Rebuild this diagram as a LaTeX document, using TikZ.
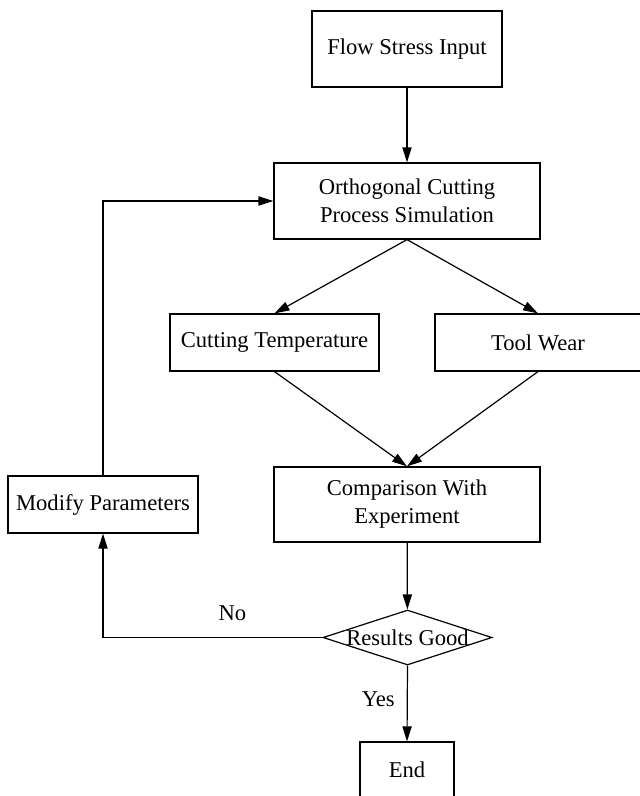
\documentclass[tikz,border=0pt]{standalone}
\usepackage{fontspec}
\setmainfont{Liberation Serif}
\usetikzlibrary{arrows.meta,shapes.geometric}
\tikzset{
  >={Triangle[length=7.5pt,width=4.6pt]},
  blk/.style={rectangle,draw,inner sep=0pt,align=center,font=\fontsize{11.3}{14}\selectfont},
  dec/.style={diamond,draw,inner sep=0pt,minimum width=84.5pt,minimum height=27.5pt,font=\fontsize{11.3}{14}\selectfont},
  lbl/.style={inner sep=0pt,font=\fontsize{11.3}{14}\selectfont},
  every picture/.style={line width=0.6pt},
}
\begin{document}
\begin{tikzpicture}[x=0.5pt,y=-0.5pt]
\useasboundingbox (0,0) rectangle (639,796);
\node[blk,minimum width=95pt,minimum height=38pt] (flow) at (407,49){Flow Stress Input};
\node[blk,minimum width=133pt,minimum height=38pt] (ortho) at (407,201){Orthogonal Cutting\\Process Simulation};
\node[blk,minimum width=104.5pt,minimum height=28.5pt] (temp) at (274.5,342.5){Cutting Temperature};
\node[blk,minimum width=103pt,minimum height=28.5pt] (wear) at (538,342.5){Tool Wear};
\node[blk,minimum width=133pt,minimum height=37.5pt] (comp) at (407,504.5){Comparison With\\Experiment};
\node[blk,minimum width=95pt,minimum height=28.5pt] (modify) at (103,504.5){Modify Parameters};
\node[dec] (good) at (407.5,637.5){\makebox[0pt]{Results Good}};
\node[blk,minimum width=47pt,minimum height=28pt] (stop) at (407,770){End};
\draw[->] (flow)--(ortho); \draw[->] (ortho.south)--(temp.north); \draw[->] (ortho.south)--(wear.north);
\draw[->] (temp.south)--(comp.north); \draw[->] (wear.south)--(comp.north); \draw[->] (comp)--(good);
\draw[->] (good.west) -| node[lbl,pos=0.205,above=8pt] (no) {No} (modify.south);
\draw[->] (good.south) -- node[lbl,pos=0.44,left=6pt] (yes) {Yes} (stop.north);
\draw[->] (modify.north) |- (ortho.west);
\end{tikzpicture}
\end{document}
